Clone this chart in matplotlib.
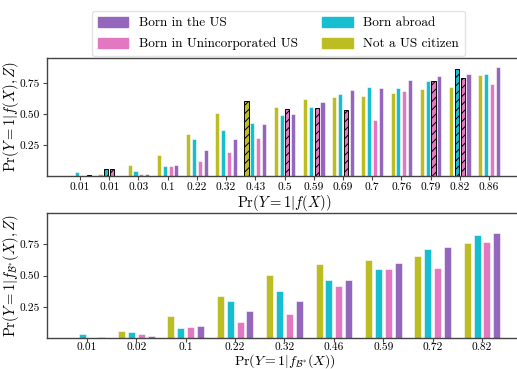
import numpy as np
import matplotlib
matplotlib.use('Agg')
import matplotlib.pyplot as plt
from matplotlib.patches import Patch

plt.rcParams['font.family'] = 'serif'
plt.rcParams['font.serif'] = ['cmr10']
plt.rcParams['mathtext.fontset'] = 'cm'
plt.rcParams['axes.formatter.use_mathtext'] = True
plt.rcParams['hatch.linewidth'] = 0.7

# groups (top panel: f(X) bins)
top_labels = ['0.01', '0.01', '0.03', '0.1', '0.22', '0.32', '0.43', '0.5',
              '0.59', '0.69', '0.7', '0.76', '0.79', '0.82', '0.86']
top_citizen = [0.0, 0.016, 0.086, 0.17, 0.34, 0.505, 0.605, 0.554,
               0.618, 0.632, 0.645, 0.672, 0.70, 0.715, 0.815]
top_abroad = [0.03, 0.056, 0.04, 0.08, 0.30, 0.37, 0.43, 0.49,
              0.554, 0.664, 0.715, 0.712, 0.763, 0.86, 0.82]
top_unincorp = [0.0, 0.056, 0.016, 0.08, 0.124, 0.19, 0.306, 0.538,
                0.546, 0.535, 0.449, 0.683, 0.763, 0.788, 0.742]
top_us = [0.008, 0.0, 0.02, 0.086, 0.207, 0.30, 0.417, 0.50,
          0.594, 0.694, 0.707, 0.772, 0.804, 0.82, 0.879]
# small-sample cells drawn hatched
top_hatch_citizen = [6]
top_hatch_abroad = [1, 13]
top_hatch_unincorp = [1, 7, 8, 9, 12, 13]
top_hatch_us = [0]

# bottom panel: f_B*(X) bins
bot_labels = ['0.01', '0.02', '0.1', '0.22', '0.32', '0.46', '0.59', '0.72', '0.82']
bot_citizen = [0.0, 0.056, 0.177, 0.34, 0.505, 0.59, 0.626, 0.659, 0.76]
bot_abroad = [0.03, 0.048, 0.083, 0.298, 0.38, 0.468, 0.556, 0.71, 0.825]
bot_unincorp = [0.0, 0.035, 0.089, 0.132, 0.19, 0.417, 0.556, 0.562, 0.766]
bot_us = [0.008, 0.019, 0.094, 0.215, 0.30, 0.462, 0.60, 0.728, 0.841]

names = ['Not a US citizen', 'Born abroad', 'Born in Unincorporated US', 'Born in the US']
colors = ['#bcbd22', '#17becf', '#e377c2', '#9467bd']
offsets = [-0.3, -0.1, 0.1, 0.3]
bar_w = 0.14


def draw(ax, labels, series, hatches, margin):
    x = np.arange(len(labels))
    for vals, col, off, hi in zip(series, colors, offsets, hatches):
        for i, v in enumerate(vals):
            if i in hi:
                ax.bar(x[i] + off, v, bar_w, color=col, edgecolor='black',
                       hatch='////', linewidth=0.7)
            else:
                ax.bar(x[i] + off, v, bar_w, color=col, edgecolor='white',
                       linewidth=0.4)
    ax.set_xticks(x)
    ax.set_xticklabels(labels, fontsize=8.2)
    ax.set_xlim(-margin, len(labels) - 1 + margin)
    ax.set_yticks([0.25, 0.5, 0.75])
    ax.set_yticklabels(['0.25', '0.50', '0.75'], fontsize=8.2)
    for s in ax.spines.values():
        s.set_color('#444444')
        s.set_linewidth(1.0)
    ax.tick_params(length=3, width=0.8, color='#444444', pad=2)


fig = plt.figure(figsize=(5.17, 3.69), dpi=100)
W, H = 517.0, 369.0
ax1 = fig.add_axes([47 / W, 1 - 176 / H, (522 - 47) / W, (176 - 58) / H])
ax2 = fig.add_axes([47 / W, 1 - 338 / H, (522 - 47) / W, (338 - 213) / H])

draw(ax1, top_labels, [top_citizen, top_abroad, top_unincorp, top_us],
     [top_hatch_citizen, top_hatch_abroad, top_hatch_unincorp, top_hatch_us], 1.13)
draw(ax2, bot_labels, [bot_citizen, bot_abroad, bot_unincorp, bot_us],
     [[], [], [], []], 0.81)
ax1.set_ylim(0, 0.95)
ax2.set_ylim(0, 1.0)
ax2.tick_params(axis='x', pad=0.5)

ax1.set_xlabel(r'$\Pr(Y=1|f(X))$', fontsize=10.5)
ax1.set_ylabel(r'$\Pr(Y=1|f(X),Z)$', fontsize=10.5)
ax2.set_xlabel(r'$\Pr(Y=1|f_{\mathcal{B}^{*}}(X))$', fontsize=10)
ax2.set_ylabel(r'$\Pr(Y=1|f_{\mathcal{B}^{*}}(X),Z)$', fontsize=10.5)
ax1.xaxis.set_label_coords(0.5, -17 / 118)
ax2.xaxis.set_label_coords(0.5, -14.5 / 125)
ax1.yaxis.set_label_coords(-26 / 475, 0.5)
ax2.yaxis.set_label_coords(-26 / 475, 0.5)

handles = [Patch(color=colors[3], label=names[3]),
           Patch(color=colors[2], label=names[2]),
           Patch(color=colors[1], label=names[1]),
           Patch(color=colors[0], label=names[0])]
fig.legend(handles=handles, ncol=2, loc='upper center',
           bbox_to_anchor=(278.5 / W, 1 - 4 / H), fontsize=9.5,
           handlelength=2.3, handleheight=0.8, columnspacing=1.85,
           frameon=True, edgecolor='#dddddd', borderpad=0.45,
           labelspacing=0.65, handletextpad=0.8)

fig.savefig('out.png', dpi=100)
